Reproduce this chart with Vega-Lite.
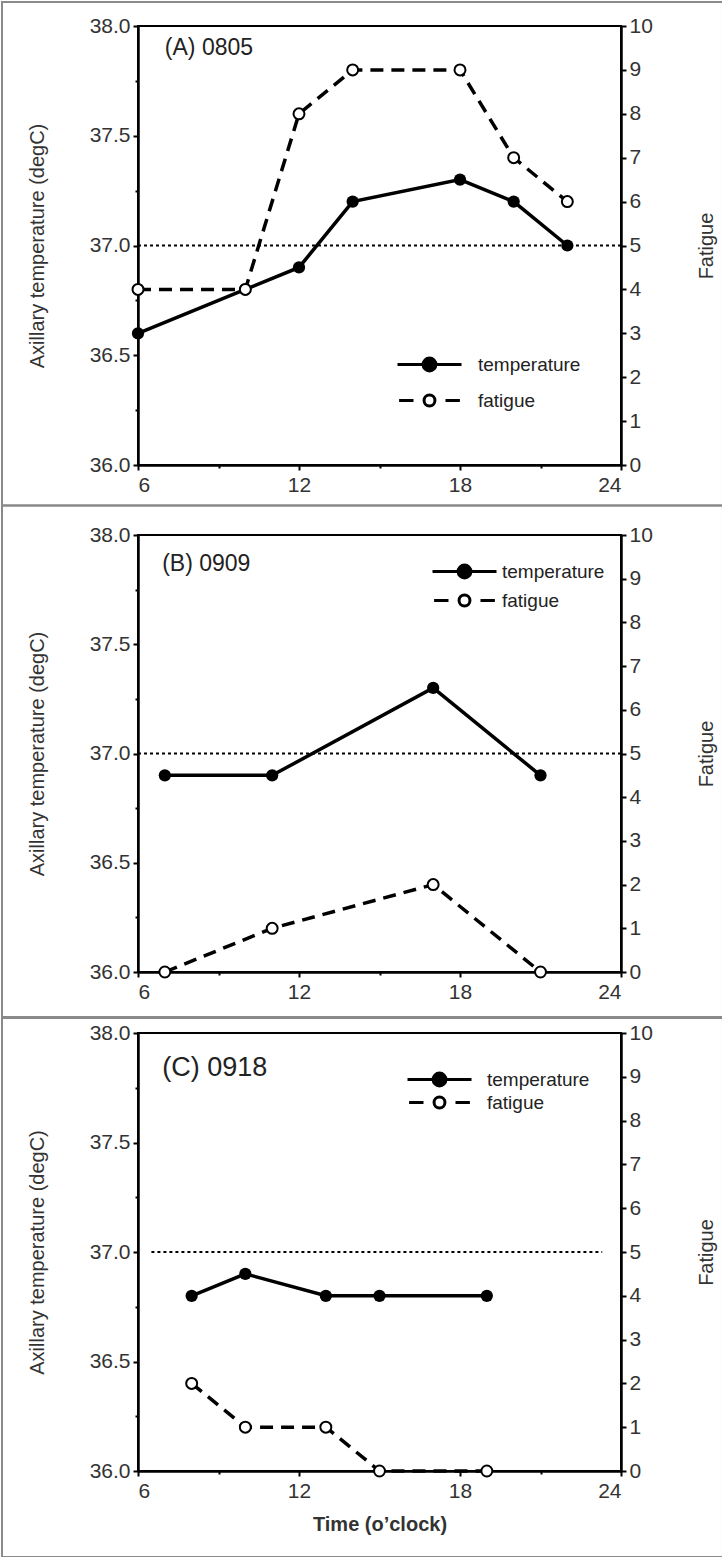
{
  "$schema": "https://vega.github.io/schema/vega-lite/v6.json",
  "padding": 0,
  "background": "white",
  "spacing": -5,
  "datasets": {
    "temp": [
      {"panel": "A", "time": 6, "temperature": 36.6, "series": "temperature"},
      {"panel": "A", "time": 10, "temperature": 36.8, "series": "temperature"},
      {"panel": "A", "time": 12, "temperature": 36.9, "series": "temperature"},
      {"panel": "A", "time": 14, "temperature": 37.2, "series": "temperature"},
      {"panel": "A", "time": 18, "temperature": 37.3, "series": "temperature"},
      {"panel": "A", "time": 20, "temperature": 37.2, "series": "temperature"},
      {"panel": "A", "time": 22, "temperature": 37.0, "series": "temperature"},
      {"panel": "B", "time": 7, "temperature": 36.9, "series": "temperature"},
      {"panel": "B", "time": 11, "temperature": 36.9, "series": "temperature"},
      {"panel": "B", "time": 17, "temperature": 37.3, "series": "temperature"},
      {"panel": "B", "time": 21, "temperature": 36.9, "series": "temperature"},
      {"panel": "C", "time": 8, "temperature": 36.8, "series": "temperature"},
      {"panel": "C", "time": 10, "temperature": 36.9, "series": "temperature"},
      {"panel": "C", "time": 13, "temperature": 36.8, "series": "temperature"},
      {"panel": "C", "time": 15, "temperature": 36.8, "series": "temperature"},
      {"panel": "C", "time": 19, "temperature": 36.8, "series": "temperature"}
    ],
    "fat": [
      {"panel": "A", "time": 6, "fatigue": 4, "series": "fatigue"},
      {"panel": "A", "time": 10, "fatigue": 4, "series": "fatigue"},
      {"panel": "A", "time": 12, "fatigue": 8, "series": "fatigue"},
      {"panel": "A", "time": 14, "fatigue": 9, "series": "fatigue"},
      {"panel": "A", "time": 18, "fatigue": 9, "series": "fatigue"},
      {"panel": "A", "time": 20, "fatigue": 7, "series": "fatigue"},
      {"panel": "A", "time": 22, "fatigue": 6, "series": "fatigue"},
      {"panel": "B", "time": 7, "fatigue": 0, "series": "fatigue"},
      {"panel": "B", "time": 11, "fatigue": 1, "series": "fatigue"},
      {"panel": "B", "time": 17, "fatigue": 2, "series": "fatigue"},
      {"panel": "B", "time": 21, "fatigue": 0, "series": "fatigue"},
      {"panel": "C", "time": 8, "fatigue": 2, "series": "fatigue"},
      {"panel": "C", "time": 10, "fatigue": 1, "series": "fatigue"},
      {"panel": "C", "time": 13, "fatigue": 1, "series": "fatigue"},
      {"panel": "C", "time": 15, "fatigue": 0, "series": "fatigue"},
      {"panel": "C", "time": 19, "fatigue": 0, "series": "fatigue"}
    ]
  },
  "resolve": {"scale": {"color": "independent", "stroke": "independent"}, "legend": {"color": "independent", "stroke": "independent"}},
  "vconcat": [
    {
      "width": 483, "height": 439,
      "layer": [
        {"layer": [
          {"data": {"values": [{}]}, "mark": {"type": "rect", "filled": false, "stroke": "#8a8a8a", "strokeWidth": 2, "clip": false},
           "encoding": {"x": {"datum": 0.932, "type": "quantitative", "scale": {"domain": [6, 24]}}, "x2": {"datum": 27.8},
                        "y": {"datum": 38.1093, "type": "quantitative", "scale": {"domain": [36, 38]}}, "y2": {"datum": 35.8155}}},
          {"data": {"values": [{}]}, "mark": {"type": "rule", "strokeDash": [3, 3], "strokeWidth": 2, "color": "black"},
           "encoding": {"y": {"datum": 37, "type": "quantitative", "scale": {"domain": [36, 38]}}}},
          {"data": {"values": [{}]}, "mark": {"type": "text", "align": "left", "baseline": "middle", "font": "Liberation Sans", "fontSize": 23, "color": "#222", "text": "(A) 0805"},
           "encoding": {"x": {"datum": 7, "type": "quantitative", "scale": {"domain": [6, 24]}}, "y": {"datum": 37.9, "type": "quantitative", "scale": {"domain": [36, 38]}}}},
          {"data": {"name": "temp"}, "transform": [{"filter": "datum.panel === 'A'"}],
           "mark": {"type": "line", "strokeWidth": 3.5},
           "encoding": {
             "x": {"field": "time", "type": "quantitative", "scale": {"domain": [6, 24]}, "axis": {"values": [6, 9, 12, 15, 18, 21, 24], "labelExpr": "datum.value % 6 === 0 ? datum.label : ''", "title": null, "labelPadding": 4, "tickSize": {"condition": {"test": "datum.value % 6 !== 0", "value": 3}, "value": 5}}},
             "y": {"field": "temperature", "type": "quantitative", "scale": {"domain": [36, 38]}, "axis": {"values": [36, 36.25, 36.5, 36.75, 37, 37.25, 37.5, 37.75, 38], "labelExpr": "datum.value % 0.5 === 0 ? format(datum.value, '.1f') : ''", "title": "Axillary temperature (degC)", "titlePadding": 42, "tickSize": {"condition": {"test": "datum.value % 0.5 !== 0", "value": 3}, "value": 5}}},
             "color": {"field": "series", "type": "nominal", "scale": {"domain": ["temperature"], "range": ["black"]},
               "legend": {"orient": "none", "legendX": 258, "legendY": 305, "title": null, "labelOffset": 15,
                 "encode": {"symbols": {"update": {"shape": {"value": "M-1,0H1M0.2,0A0.2,0.2 0 1,1 -0.2,0A0.2,0.2 0 1,1 0.2,0Z"}, "fill": {"value": "black"}, "stroke": {"value": "black"}, "strokeWidth": {"value": 3}}}}}}
           }},
          {"data": {"name": "temp"}, "transform": [{"filter": "datum.panel === 'A'"}],
           "mark": {"type": "point", "shape": "circle", "filled": true, "color": "black", "size": 150, "opacity": 1},
           "encoding": {"x": {"field": "time", "type": "quantitative", "scale": {"domain": [6, 24]}}, "y": {"field": "temperature", "type": "quantitative", "scale": {"domain": [36, 38]}}}}
        ]},
        {"layer": [
          {"data": {"name": "fat"}, "transform": [{"filter": "datum.panel === 'A'"}],
           "mark": {"type": "line", "strokeWidth": 3.5, "strokeDash": [13, 8]},
           "encoding": {
             "x": {"field": "time", "type": "quantitative", "scale": {"domain": [6, 24]}},
             "y": {"field": "fatigue", "type": "quantitative", "scale": {"domain": [0, 10]}, "axis": {"orient": "right", "values": [0, 1, 2, 3, 4, 5, 6, 7, 8, 9, 10], "title": "Fatigue", "titleAngle": 270, "titlePadding": 64}},
             "stroke": {"field": "series", "type": "nominal", "scale": {"domain": ["fatigue"], "range": ["black"]},
               "legend": {"orient": "none", "legendX": 258, "legendY": 341, "title": null, "labelOffset": 15,
                 "encode": {"symbols": {"update": {"shape": {"value": "M-0.95,0H-0.5M0.5,0H0.95M0.17,0A0.17,0.17 0 1,1 -0.17,0A0.17,0.17 0 1,1 0.17,0Z"}, "fill": {"value": "white"}, "stroke": {"value": "black"}, "strokeWidth": {"value": 3}}}}}}
           }},
          {"data": {"name": "fat"}, "transform": [{"filter": "datum.panel === 'A'"}],
           "mark": {"type": "point", "shape": "circle", "filled": false, "fill": "white", "fillOpacity": 1, "stroke": "black", "strokeWidth": 2, "size": 120, "opacity": 1},
           "encoding": {"x": {"field": "time", "type": "quantitative", "scale": {"domain": [6, 24]}}, "y": {"field": "fatigue", "type": "quantitative", "scale": {"domain": [0, 10]}}}}
        ]}
      ],
      "resolve": {"scale": {"y": "independent"}}
    },
    {
      "width": 483, "height": 437,
      "layer": [
        {"layer": [
          {"data": {"values": [{}]}, "mark": {"type": "rect", "filled": false, "stroke": "#8a8a8a", "strokeWidth": 2, "clip": false},
           "encoding": {"x": {"datum": 0.932, "type": "quantitative", "scale": {"domain": [6, 24]}}, "x2": {"datum": 27.8},
                        "y": {"datum": 38.135, "type": "quantitative", "scale": {"domain": [36, 38]}}, "y2": {"datum": 35.7895}}},
          {"data": {"values": [{}]}, "mark": {"type": "rule", "strokeDash": [3, 3], "strokeWidth": 2, "color": "black"},
           "encoding": {"y": {"datum": 37, "type": "quantitative", "scale": {"domain": [36, 38]}}}},
          {"data": {"values": [{}]}, "mark": {"type": "text", "align": "left", "baseline": "middle", "font": "Liberation Sans", "fontSize": 23, "color": "#222", "text": "(B) 0909"},
           "encoding": {"x": {"datum": 6.9, "type": "quantitative", "scale": {"domain": [6, 24]}}, "y": {"datum": 37.867, "type": "quantitative", "scale": {"domain": [36, 38]}}}},
          {"data": {"name": "temp"}, "transform": [{"filter": "datum.panel === 'B'"}],
           "mark": {"type": "line", "strokeWidth": 3.5},
           "encoding": {
             "x": {"field": "time", "type": "quantitative", "scale": {"domain": [6, 24]}, "axis": {"values": [6, 9, 12, 15, 18, 21, 24], "labelExpr": "datum.value % 6 === 0 ? datum.label : ''", "title": null, "labelPadding": 4, "tickSize": {"condition": {"test": "datum.value % 6 !== 0", "value": 3}, "value": 5}}},
             "y": {"field": "temperature", "type": "quantitative", "scale": {"domain": [36, 38]}, "axis": {"values": [36, 36.25, 36.5, 36.75, 37, 37.25, 37.5, 37.75, 38], "labelExpr": "datum.value % 0.5 === 0 ? format(datum.value, '.1f') : ''", "title": "Axillary temperature (degC)", "titlePadding": 42, "tickSize": {"condition": {"test": "datum.value % 0.5 !== 0", "value": 3}, "value": 5}}},
             "color": {"field": "series", "type": "nominal", "scale": {"domain": ["temperature"], "range": ["black"]},
               "legend": {"orient": "none", "legendX": 293, "legendY": 3, "title": null, "labelOffset": 4,
                 "encode": {"symbols": {"update": {"shape": {"value": "M-1,0H1M0.2,0A0.2,0.2 0 1,1 -0.2,0A0.2,0.2 0 1,1 0.2,0Z"}, "fill": {"value": "black"}, "stroke": {"value": "black"}, "strokeWidth": {"value": 3}}}}}}
           }},
          {"data": {"name": "temp"}, "transform": [{"filter": "datum.panel === 'B'"}],
           "mark": {"type": "point", "shape": "circle", "filled": true, "color": "black", "size": 150, "opacity": 1},
           "encoding": {"x": {"field": "time", "type": "quantitative", "scale": {"domain": [6, 24]}}, "y": {"field": "temperature", "type": "quantitative", "scale": {"domain": [36, 38]}}}}
        ]},
        {"layer": [
          {"data": {"name": "fat"}, "transform": [{"filter": "datum.panel === 'B'"}],
           "mark": {"type": "line", "strokeWidth": 3.5, "strokeDash": [13, 8]},
           "encoding": {
             "x": {"field": "time", "type": "quantitative", "scale": {"domain": [6, 24]}},
             "y": {"field": "fatigue", "type": "quantitative", "scale": {"domain": [0, 10]}, "axis": {"orient": "right", "values": [0, 1, 2, 3, 4, 5, 6, 7, 8, 9, 10], "title": "Fatigue", "titleAngle": 270, "titlePadding": 64}},
             "stroke": {"field": "series", "type": "nominal", "scale": {"domain": ["fatigue"], "range": ["black"]},
               "legend": {"orient": "none", "legendX": 293, "legendY": 32, "title": null, "labelOffset": 4,
                 "encode": {"symbols": {"update": {"shape": {"value": "M-0.95,0H-0.5M0.5,0H0.95M0.17,0A0.17,0.17 0 1,1 -0.17,0A0.17,0.17 0 1,1 0.17,0Z"}, "fill": {"value": "white"}, "stroke": {"value": "black"}, "strokeWidth": {"value": 3}}}}}}
           }},
          {"data": {"name": "fat"}, "transform": [{"filter": "datum.panel === 'B'"}],
           "mark": {"type": "point", "shape": "circle", "filled": false, "fill": "white", "fillOpacity": 1, "stroke": "black", "strokeWidth": 2, "size": 120, "opacity": 1},
           "encoding": {"x": {"field": "time", "type": "quantitative", "scale": {"domain": [6, 24]}}, "y": {"field": "fatigue", "type": "quantitative", "scale": {"domain": [0, 10]}}}}
        ]}
      ],
      "resolve": {"scale": {"y": "independent"}}
    },
    {
      "width": 483, "height": 438,
      "layer": [
        {"layer": [
          {"data": {"values": [{}]}, "mark": {"type": "rect", "filled": false, "stroke": "#8a8a8a", "strokeWidth": 2, "clip": false},
           "encoding": {"x": {"datum": 0.932, "type": "quantitative", "scale": {"domain": [6, 24]}}, "x2": {"datum": 27.8},
                        "y": {"datum": 38.073, "type": "quantitative", "scale": {"domain": [36, 38]}}, "y2": {"datum": 35.6073}}},
          {"data": {"values": [{}]}, "mark": {"type": "rule", "strokeDash": [3, 3], "strokeWidth": 2, "color": "black"},
           "encoding": {"x": {"datum": 6.5, "type": "quantitative", "scale": {"domain": [6, 24]}}, "x2": {"datum": 23.3}, "y": {"datum": 37, "type": "quantitative", "scale": {"domain": [36, 38]}}}},
          {"data": {"values": [{}]}, "mark": {"type": "text", "align": "left", "baseline": "middle", "font": "Liberation Sans", "fontSize": 27, "color": "#222", "text": "(C) 0918"},
           "encoding": {"x": {"datum": 6.9, "type": "quantitative", "scale": {"domain": [6, 24]}}, "y": {"datum": 37.84, "type": "quantitative", "scale": {"domain": [36, 38]}}}},
          {"data": {"name": "temp"}, "transform": [{"filter": "datum.panel === 'C'"}],
           "mark": {"type": "line", "strokeWidth": 3.5},
           "encoding": {
             "x": {"field": "time", "type": "quantitative", "scale": {"domain": [6, 24]}, "axis": {"values": [6, 9, 12, 15, 18, 21, 24], "labelExpr": "datum.value % 6 === 0 ? datum.label : ''", "title": "Time (o\u2019clock)", "titleFontWeight": "bold", "titleFont": "Liberation Sans", "titleFontSize": 20, "titlePadding": 13, "labelPadding": 4, "tickSize": {"condition": {"test": "datum.value % 6 !== 0", "value": 3}, "value": 5}}},
             "y": {"field": "temperature", "type": "quantitative", "scale": {"domain": [36, 38]}, "axis": {"values": [36, 36.25, 36.5, 36.75, 37, 37.25, 37.5, 37.75, 38], "labelExpr": "datum.value % 0.5 === 0 ? format(datum.value, '.1f') : ''", "title": "Axillary temperature (degC)", "titlePadding": 42, "tickSize": {"condition": {"test": "datum.value % 0.5 !== 0", "value": 3}, "value": 5}}},
             "color": {"field": "series", "type": "nominal", "scale": {"domain": ["temperature"], "range": ["black"]},
               "legend": {"orient": "none", "legendX": 268, "legendY": 13, "title": null, "labelOffset": 14,
                 "encode": {"symbols": {"update": {"shape": {"value": "M-1,0H1M0.2,0A0.2,0.2 0 1,1 -0.2,0A0.2,0.2 0 1,1 0.2,0Z"}, "fill": {"value": "black"}, "stroke": {"value": "black"}, "strokeWidth": {"value": 3}}}}}}
           }},
          {"data": {"name": "temp"}, "transform": [{"filter": "datum.panel === 'C'"}],
           "mark": {"type": "point", "shape": "circle", "filled": true, "color": "black", "size": 150, "opacity": 1},
           "encoding": {"x": {"field": "time", "type": "quantitative", "scale": {"domain": [6, 24]}}, "y": {"field": "temperature", "type": "quantitative", "scale": {"domain": [36, 38]}}}}
        ]},
        {"layer": [
          {"data": {"name": "fat"}, "transform": [{"filter": "datum.panel === 'C'"}],
           "mark": {"type": "line", "strokeWidth": 3.5, "strokeDash": [13, 8]},
           "encoding": {
             "x": {"field": "time", "type": "quantitative", "scale": {"domain": [6, 24]}},
             "y": {"field": "fatigue", "type": "quantitative", "scale": {"domain": [0, 10]}, "axis": {"orient": "right", "values": [0, 1, 2, 3, 4, 5, 6, 7, 8, 9, 10], "title": "Fatigue", "titleAngle": 270, "titlePadding": 64}},
             "stroke": {"field": "series", "type": "nominal", "scale": {"domain": ["fatigue"], "range": ["black"]},
               "legend": {"orient": "none", "legendX": 268, "legendY": 36, "title": null, "labelOffset": 14,
                 "encode": {"symbols": {"update": {"shape": {"value": "M-0.95,0H-0.5M0.5,0H0.95M0.17,0A0.17,0.17 0 1,1 -0.17,0A0.17,0.17 0 1,1 0.17,0Z"}, "fill": {"value": "white"}, "stroke": {"value": "black"}, "strokeWidth": {"value": 3}}}}}}
           }},
          {"data": {"name": "fat"}, "transform": [{"filter": "datum.panel === 'C'"}],
           "mark": {"type": "point", "shape": "circle", "filled": false, "fill": "white", "fillOpacity": 1, "stroke": "black", "strokeWidth": 2, "size": 120, "opacity": 1},
           "encoding": {"x": {"field": "time", "type": "quantitative", "scale": {"domain": [6, 24]}}, "y": {"field": "fatigue", "type": "quantitative", "scale": {"domain": [0, 10]}}}}
        ]}
      ],
      "resolve": {"scale": {"y": "independent"}}
    }
  ],
  "config": {
    "view": {"stroke": "black", "strokeWidth": 2},
    "concat": {"spacing": -5},
    "legend": {"padding": 0, "symbolSize": 4096, "symbolStrokeWidth": 3, "labelFont": "Liberation Sans", "labelFontSize": 19, "labelColor": "#222"},
    "axis": {"grid": false, "domainColor": "black", "domainWidth": 2.5, "tickColor": "black", "tickWidth": 2, "tickSize": 5,
             "labelFont": "Liberation Sans", "labelFontSize": 21, "labelColor": "#333", "labelPadding": 3,
             "titleFont": "Liberation Sans", "titleFontSize": 20, "titleFontWeight": "normal", "titleColor": "#333"}
  }
}
